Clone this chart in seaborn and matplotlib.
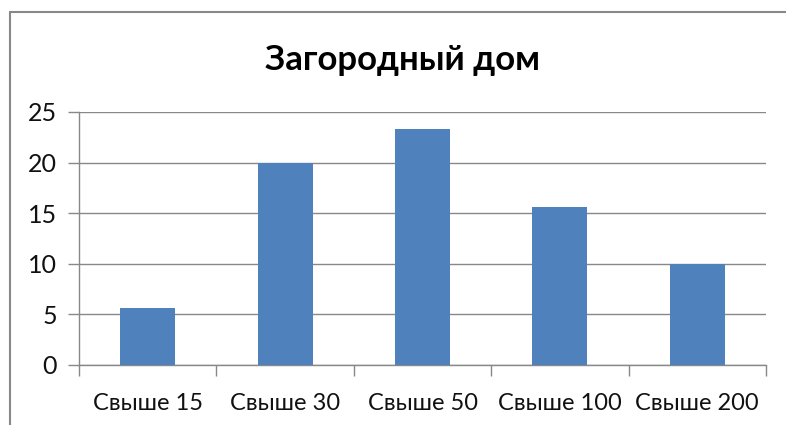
import matplotlib
matplotlib.use("Agg")
import matplotlib.pyplot as plt
import seaborn as sns
import pandas as pd
from matplotlib.lines import Line2D

categories = ["Свыше 15", "Свыше 30", "Свыше 50", "Свыше 100", "Свыше 200"]
values = [5.6, 20.0, 23.3, 15.6, 10.0]
yticks = [0, 5, 10, 15, 20, 25]
title = "Загородный дом"

sns.set_theme(style="white")
plt.rcParams["font.family"] = ["Lato", "DejaVu Sans"]

df = pd.DataFrame({"cat": categories, "val": values})

fig = plt.figure(figsize=(7.86, 4.25), dpi=100)
ax = fig.add_axes([79/786, 1-365/425, (766-79)/786, (365-112)/425])
sns.barplot(data=df, x="cat", y="val", color="#4F81BD", saturation=1, width=0.4,
            linewidth=0, ax=ax, zorder=3)

ax.set_xlim(-0.5, len(categories)-0.5)
ax.set_ylim(0, 25)
ax.set_yticks(yticks)
ax.set_yticklabels([str(t) for t in yticks], fontsize=18, color="#111111")
ax.yaxis.grid(True, color="#888888", linewidth=1.0, zorder=0)
ax.set_axisbelow(True)
ax.set_xlabel("")
ax.set_ylabel("")
ax.tick_params(axis="y", length=8, width=1, color="#888888", direction="out", pad=8, left=True)
ax.set_xticks(range(len(categories)))
ax.set_xticklabels(categories, fontsize=17, color="#111111")
ax.tick_params(axis="x", which="major", length=0, pad=20)
ax.set_xticks([i - 0.5 for i in range(len(categories)+1)], minor=True)
ax.tick_params(axis="x", which="minor", length=8, width=1, color="#888888", direction="out", bottom=True)

for s in ["top", "right"]:
    ax.spines[s].set_visible(False)
for s in ["left", "bottom"]:
    ax.spines[s].set_visible(True)
    ax.spines[s].set_color("#888888")
    ax.spines[s].set_linewidth(1.0)

fig.text(403/786, 1-60/425, title, ha="center", va="center", fontsize=25, fontweight="bold", color="#000000")

fig.add_artist(Line2D([10/786, 10/786], [0, 1-12/425], transform=fig.transFigure, color="#888888", linewidth=1.5))
fig.add_artist(Line2D([10/786, 1], [1-12/425, 1-12/425], transform=fig.transFigure, color="#888888", linewidth=1.5))

fig.savefig("out.png", dpi=100, facecolor="white")
